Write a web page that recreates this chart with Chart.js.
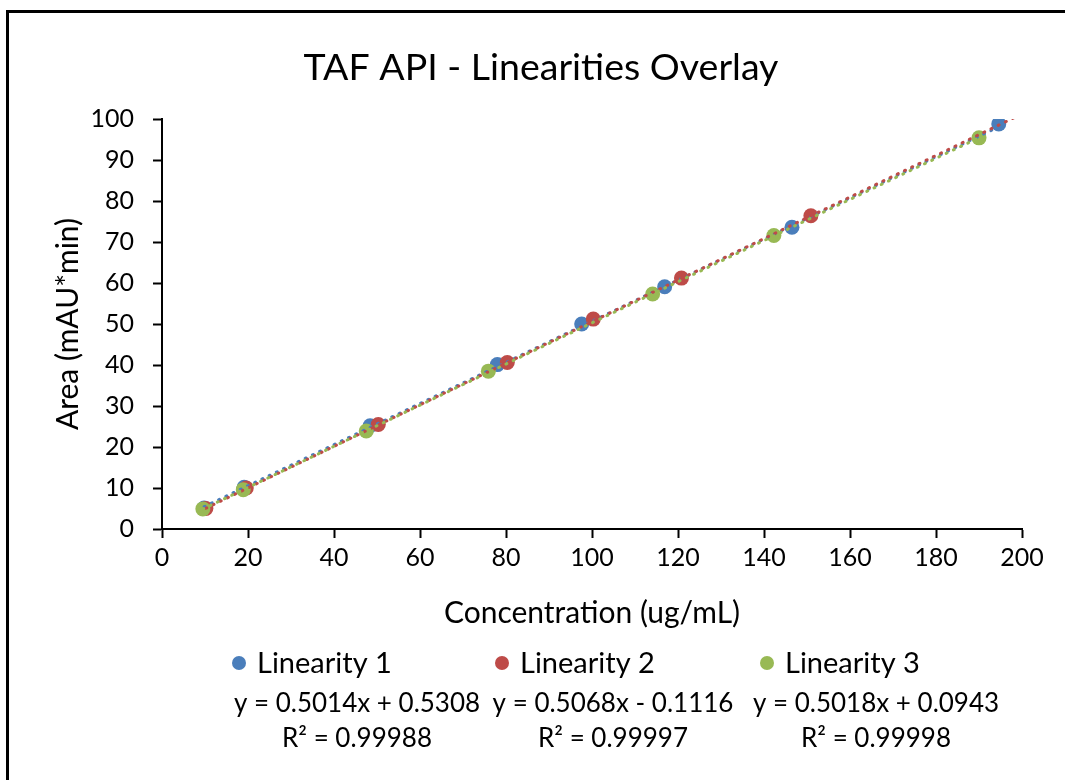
<!DOCTYPE html>
<html>
<head>
<meta charset="utf-8">
<script src="https://cdn.jsdelivr.net/npm/chart.js@4"></script>
<style>
  html, body { margin: 0; padding: 0; background: #fff; overflow: hidden; }
  #wrap { width: 1065px; height: 780px; position: relative; }
  canvas { display: block; }
</style>
</head>
<body>
<div id="wrap"><canvas id="linearity" width="1065" height="780"></canvas></div>
<script>
const chartTitle = "TAF API - Linearities Overlay";
// series names and fit results (from the legend)
const seriesNames = ["Linearity 1", "Linearity 2", "Linearity 3"];
const equations = ["y = 0.5014x + 0.5308", "y = 0.5068x - 0.1116", "y = 0.5018x + 0.0943"];
const rSquared = ["R² = 0.99988", "R² = 0.99997", "R² = 0.99998"];
const slopes = [0.5014, 0.5068, 0.5018];
const intercepts = [0.5308, -0.1116, 0.0943];
const colors = ["#4a7ebb", "#be4b48", "#98b954"];

// measured points, concentration (ug/mL) vs area (mAU*min)
const conc1 = [9.8, 19.1, 48.4, 78.0, 97.6, 116.9, 146.5, 194.6];
const area1 = [5.1, 10.2, 25.2, 40.1, 50.0, 59.1, 73.6, 98.8];
const conc2 = [10.2, 19.6, 50.3, 80.3, 100.3, 120.8, 150.9];
const area2 = [5.0, 10.0, 25.5, 40.6, 51.2, 61.2, 76.4];
const conc3 = [9.5, 18.9, 47.5, 75.9, 114.1, 142.3, 190.0];
const area3 = [4.9, 9.6, 23.9, 38.5, 57.3, 71.6, 95.4];
// x range covered by each trendline
const trendRange = [[9.8, 194.6], [10.2, 198.3], [9.5, 190.0]];

const xTicks = [0, 20, 40, 60, 80, 100, 120, 140, 160, 180, 200];
const yTicks = [0, 10, 20, 30, 40, 50, 60, 70, 80, 90, 100];

const FONT = "Lato, 'Open Sans', sans-serif";

const concs = [conc1, conc2, conc3];
const areas = [area1, area2, area3];

const datasets = [];
//scatter points, later series drawn on top
concs.forEach((c, i) => {
    datasets.push({
        type: "scatter",
        label: seriesNames[i],
        data: c.map((x, j) => ({ x: x, y: areas[i][j] })),
        backgroundColor: colors[i],
        borderColor: colors[i],
        pointRadius: 7.5,
        pointBorderWidth: 0,
        order: 10 - i,
    });
});
//dotted linear trendlines from the fitted equations
trendRange.forEach((r, i) => {
    datasets.push({
        type: "line",
        label: seriesNames[i] + " trend",
        data: r.map((x) => ({ x: x, y: slopes[i] * x + intercepts[i] })),
        borderColor: colors[i],
        borderWidth: 3,
        borderDash: [1, 7],
        borderCapStyle: "round",
        pointRadius: 0,
        fill: false,
        order: 3 - i,
    });
});

const frameAndLegend = {
    id: "frameAndLegend",
    beforeDraw(chart) {
        const ctx = chart.ctx;
        ctx.save();
        ctx.fillStyle = "#fff";
        ctx.fillRect(0, 0, chart.width, chart.height);
        // outer frame, only top and left edges fall inside the picture
        ctx.strokeStyle = "#000";
        ctx.lineWidth = 3;
        ctx.beginPath();
        ctx.moveTo(7.5, chart.height);
        ctx.lineTo(7.5, 11.5);
        ctx.lineTo(chart.width, 11.5);
        ctx.stroke();
        ctx.restore();
    },
    afterDraw(chart) {
        const ctx = chart.ctx;
        const markerX = [239, 502, 767];
        const centers = [357, 613, 876];
        ctx.save();
        ctx.textBaseline = "middle";
        ctx.fillStyle = "#000";
        ctx.font = "37.5px " + FONT;
        ctx.textAlign = "center";
        ctx.fillText(chartTitle, 541, 68);
        seriesNames.forEach((name, i) => {
            ctx.beginPath();
            ctx.fillStyle = colors[i];
            ctx.arc(markerX[i], 663, 7, 0, Math.PI * 2);
            ctx.fill();
            ctx.fillStyle = "#000";
            ctx.font = "29px " + FONT;
            ctx.textAlign = "left";
            ctx.fillText(name, markerX[i] + 18, 664);
            ctx.font = "26px " + FONT;
            ctx.textAlign = "center";
            ctx.fillText(equations[i], centers[i], 704);
            ctx.fillText(rSquared[i], centers[i], 739);
        });
        ctx.restore();
    },
};

const gridOpts = {
    display: true,
    drawOnChartArea: false,
    drawTicks: true,
    tickLength: 9,
    tickWidth: 2,
    color: "#000",
};

const ctx = document.querySelector("#linearity");
const linChart = new Chart(ctx, {
    data: { datasets: datasets },
    plugins: [frameAndLegend],
    options: {
        responsive: false,
        animation: false,
        layout: { padding: { left: 46, top: 119, right: 43, bottom: 146 } },
        plugins: {
            legend: { display: false },
            tooltip: { enabled: false },
            title: { display: false },
        },
        scales: {
            x: {
                type: "linear",
                min: 0,
                max: 200,
                afterBuildTicks: (s) => { s.ticks = xTicks.map((v) => ({ value: v })); },
                afterFit: (s) => { s.height = 105; },
                grid: gridOpts,
                border: { color: "#000", width: 2 },
                ticks: { color: "#000", padding: 5, font: { family: FONT, size: 25 } },
                title: {
                    display: true,
                    text: "Concentration (ug/mL)",
                    color: "#000",
                    font: { family: FONT, size: 30 },
                    padding: { top: 0, bottom: 3 },
                },
            },
            y: {
                type: "linear",
                min: 0,
                max: 100,
                afterBuildTicks: (s) => { s.ticks = yTicks.map((v) => ({ value: v })); },
                afterFit: (s) => { s.width = 116; },
                grid: gridOpts,
                border: { color: "#000", width: 2 },
                ticks: { color: "#000", padding: 19, font: { family: FONT, size: 25 } },
                title: {
                    display: true,
                    text: "Area (mAU*min)",
                    color: "#000",
                    font: { family: FONT, size: 30 },
                    padding: { top: 4, bottom: 4 },
                },
            },
        },
    },
});
</script>
</body>
</html>
